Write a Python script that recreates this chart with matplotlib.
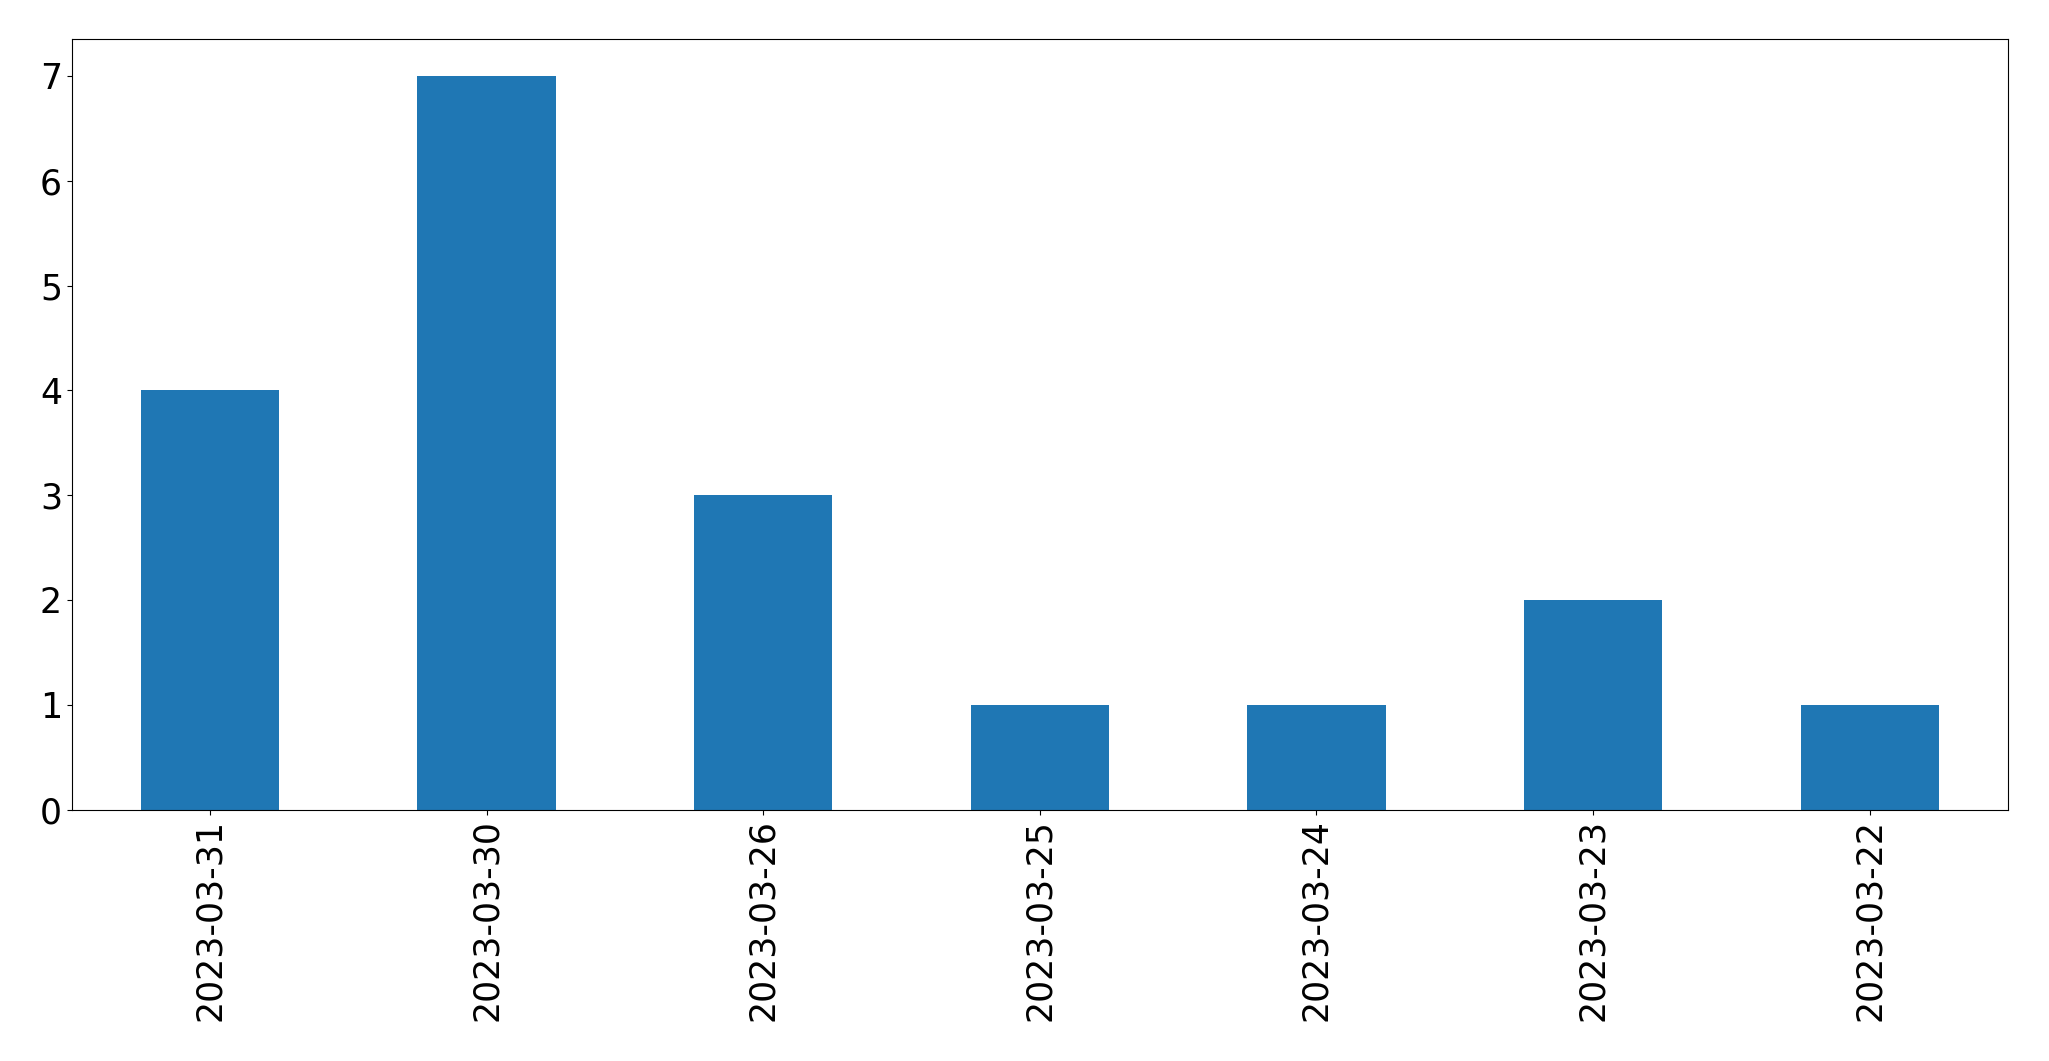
import matplotlib
matplotlib.use("Agg")
import matplotlib.pyplot as plt
import pandas as pd

dates = ["2023-03-31", "2023-03-30", "2023-03-26", "2023-03-25",
         "2023-03-24", "2023-03-23", "2023-03-22"]
counts = [4, 7, 3, 1, 1, 2, 1]

s = pd.Series(counts, index=dates)

fig, ax = plt.subplots(figsize=(20.49, 10.61), dpi=100)
s.plot(kind="bar", ax=ax, color="#1f77b4", fontsize=25)
ax.set_ylim(0, 7.35)
fig.subplots_adjust(left=0.035, right=0.98, top=0.963, bottom=0.237)
fig.savefig("out.png", dpi=100)
